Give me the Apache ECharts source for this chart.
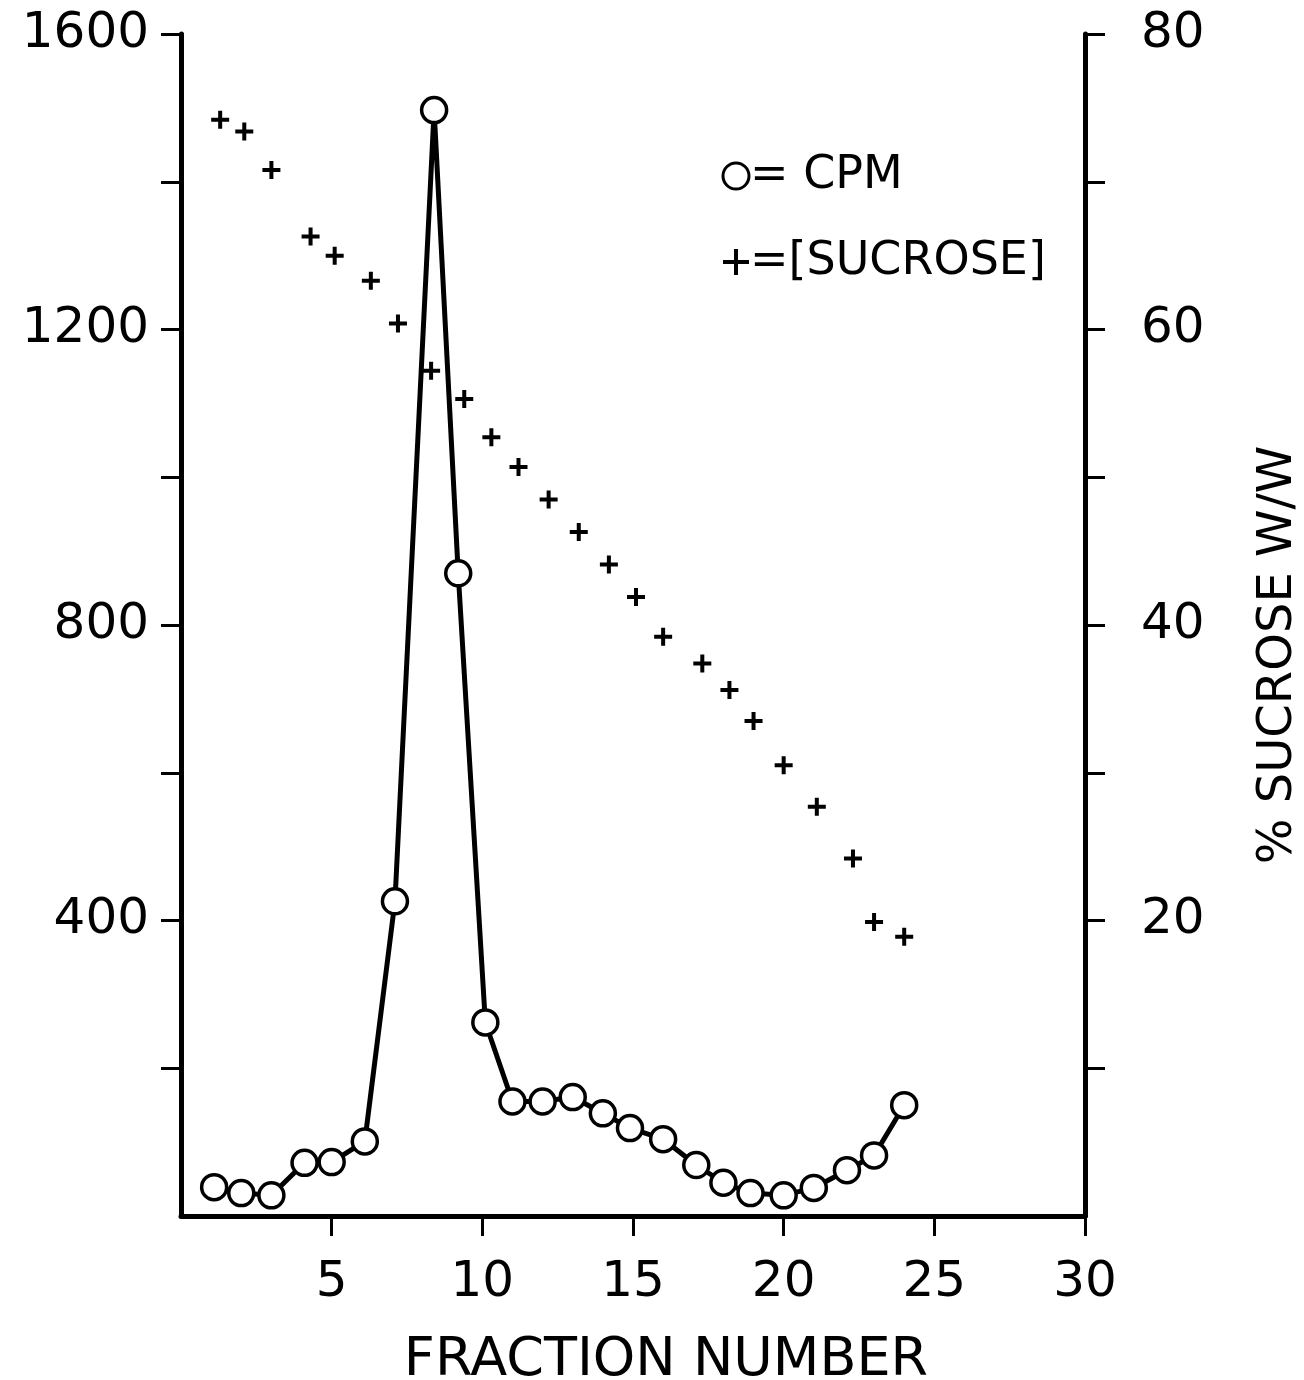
<!DOCTYPE html>
<html>
<head>
<meta charset="utf-8">
<script src="https://cdn.jsdelivr.net/npm/echarts@6/dist/echarts.min.js"></script>
<style>
  html, body { margin: 0; padding: 0; background: #fff; }
  #chart { width: 1304px; height: 1380px; }
</style>
</head>
<body>
<div id="chart"></div>
<script>
// CPM (open circles joined by a line)
const cpmFraction = [1.1, 2.0, 3.0, 4.1, 5.0, 6.1, 7.1, 8.4, 9.2, 10.1, 11.0, 12.0, 13.0, 14.0, 14.9, 16.0, 17.1, 18.0, 18.9, 20.0, 21.0, 22.1, 23.0, 24.0]
const cpmValues = [39, 31, 28, 72, 73, 101, 426, 1497, 870, 262, 155, 155, 161, 139, 119, 104, 69, 45, 31, 28, 38, 62, 82, 150]

// sucrose concentration (crosses), right axis
const sucroseFraction = [1.3, 2.1, 3.0, 4.3, 5.1, 6.3, 7.2, 8.3, 9.4, 10.3, 11.2, 12.2, 13.2, 14.2, 15.1, 16.0, 17.3, 18.2, 19.0, 20.0, 21.1, 22.3, 23.0, 24.0]
const sucroseValues = [74.2, 73.4, 70.8, 66.3, 65.0, 63.3, 60.4, 57.2, 55.3, 52.7, 50.7, 48.5, 46.3, 44.1, 41.9, 39.2, 37.4, 35.6, 33.5, 30.5, 27.7, 24.2, 19.9, 18.9]

// ticks and labels
const xTicks = [5, 10, 15, 20, 25, 30]
const cpmTicks = [200, 400, 600, 800, 1000, 1200, 1400, 1600]
const cpmLabels = [400, 800, 1200, 1600]
const sucroseTicks = [10, 20, 30, 40, 50, 60, 70, 80]
const sucroseLabels = [20, 40, 60, 80]

const FONT = 'DejaVu Sans'
const INK = '#000000'
const crossPath = 'path://M0,6 L12,6 M6,0 L6,12'

const chart = echarts.init(document.getElementById('chart'))

const axisLine = { show: true, lineStyle: { color: INK, width: 5 } }
const plain = (v) => String(v)

chart.setOption({
  backgroundColor: '#ffffff',
  animation: false,
  grid: { left: 181, right: 219, top: 34, bottom: 164, containLabel: false, outerBoundsMode: 'none' },
  legend: {
    orient: 'vertical',
    left: 716,
    top: 148,
    itemGap: 40,
    itemWidth: 26,
    itemHeight: 26,
    textStyle: { fontFamily: FONT, fontSize: 46, color: INK, padding: [0, 0, 0, -4] },
    data: [
      { name: 'CPM', icon: 'circle', itemStyle: { color: '#fff', borderColor: INK, borderWidth: 3 } },
      { name: 'SUCROSE', icon: crossPath, itemStyle: { color: INK, borderColor: INK, borderWidth: 4 } }
    ],
    formatter: (name) => name === 'CPM' ? '= CPM' : '=[SUCROSE]'
  },
  xAxis: {
    type: 'value',
    min: 0,
    max: 30,
    interval: 5,
    name: 'FRACTION NUMBER',
    nameLocation: 'middle',
    nameGap: 118,
    nameTextStyle: { fontFamily: FONT, fontSize: 54, color: INK, padding: [0, 0, 0, 66] },
    axisLine: axisLine,
    axisTick: { show: true, length: 20, customValues: xTicks, lineStyle: { color: INK, width: 3 } },
    axisLabel: { customValues: xTicks, formatter: plain, margin: 42, fontFamily: FONT, fontSize: 50, color: INK },
    splitLine: { show: false }
  },
  yAxis: [
    {
      type: 'value',
      position: 'left',
      min: 0,
      max: 1600,
      interval: 200,
      axisLine: axisLine,
      axisTick: { show: true, length: 20, customValues: cpmTicks, lineStyle: { color: INK, width: 3 } },
      axisLabel: { customValues: cpmLabels, formatter: plain, margin: 32, fontFamily: FONT, fontSize: 50, color: INK },
      splitLine: { show: false }
    },
    {
      type: 'value',
      position: 'right',
      min: 0,
      max: 80,
      interval: 10,
      name: '% SUCROSE W/W',
      nameLocation: 'middle',
      nameRotate: 90,
      nameGap: 170,
      nameTextStyle: { fontFamily: FONT, fontSize: 48, color: INK, padding: [0, 60, 0, 0] },
      axisLine: axisLine,
      axisTick: { show: true, length: 20, customValues: sucroseTicks, lineStyle: { color: INK, width: 3 } },
      axisLabel: { customValues: sucroseLabels, formatter: plain, margin: 56, fontFamily: FONT, fontSize: 50, color: INK },
      splitLine: { show: false }
    }
  ],
  series: [
    {
      name: 'CPM',
      type: 'line',
      yAxisIndex: 0,
      data: cpmFraction.map((x, i) => [x, cpmValues[i]]),
      symbol: 'circle',
      symbolSize: 25,
      showAllSymbol: true,
      lineStyle: { color: INK, width: 5 },
      itemStyle: { color: '#ffffff', borderColor: INK, borderWidth: 3.5 },
      z: 3
    },
    {
      name: 'SUCROSE',
      type: 'scatter',
      yAxisIndex: 1,
      data: sucroseFraction.map((x, i) => [x, sucroseValues[i]]),
      symbol: crossPath,
      symbolSize: 18,
      itemStyle: { color: INK, borderColor: INK, borderWidth: 4, opacity: 1 },
      z: 2
    }
  ]
})
</script>
</body>
</html>
